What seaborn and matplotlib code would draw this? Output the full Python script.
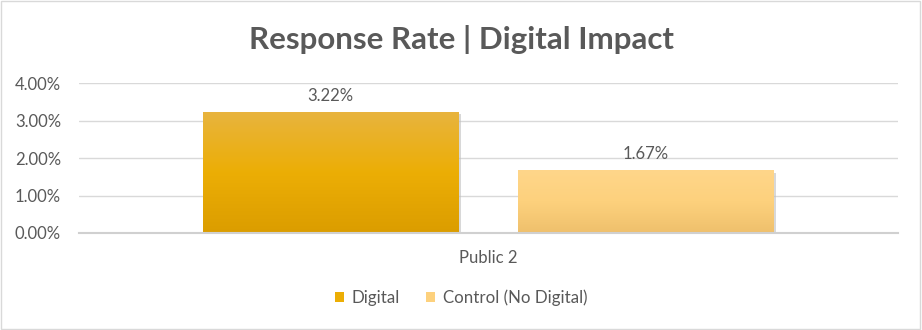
import matplotlib
matplotlib.use("Agg")
import matplotlib.pyplot as plt
import matplotlib.patheffects as pe
from matplotlib.colors import LinearSegmentedColormap
from matplotlib.patches import Rectangle
from matplotlib.ticker import PercentFormatter
import numpy as np
import pandas as pd
import seaborn as sns

# Chart data
categories = ["Public 2"]
series = ["Digital", "Control (No Digital)"]
values = [3.22, 1.67]
labels = ["3.22%", "1.67%"]
y_ticks = [0.0, 1.0, 2.0, 3.0, 4.0]

df = pd.DataFrame({
    "category": categories * len(series),
    "series": series,
    "value": values,
})

# Colour gradients (top -> bottom) per series
gradients = {
    "Digital": ["#E8B43E", "#ECAE05", "#DB9D00"],
    "Control (No Digital)": ["#FFD68A", "#FDD17D", "#EFC06C"],
}
solid = {"Digital": "#E6A800", "Control (No Digital)": "#FAD07F"}

sns.set_theme(style="white")
plt.rcParams["font.family"] = ["Lato", "DejaVu Sans"]
text_color = "#595959"

fig = plt.figure(figsize=(9.22, 3.30), dpi=100)
ax = fig.add_axes([0.0857, 0.294, 0.888, 0.454])

sns.barplot(data=df, x="category", y="value", hue="series",
            palette=solid, width=0.77, gap=0.19, ax=ax, legend=True,
            saturation=1, linewidth=0)

# Gradient fill and soft shadow on each bar
for patch, name in zip(ax.patches, series):
    x0, y0 = patch.get_x(), patch.get_y()
    w, h = patch.get_width(), patch.get_height()
    cmap = LinearSegmentedColormap.from_list(name, gradients[name][::-1])
    grad = np.linspace(0, 1, 256).reshape(-1, 1)
    im = ax.imshow(grad, cmap=cmap, aspect="auto", origin="lower",
                   extent=[x0, x0 + w, y0, y0 + h], zorder=patch.get_zorder() + 0.1)
    im.set_clip_path(patch)
    patch.set_path_effects([pe.SimplePatchShadow(offset=(1.5, -1.5), shadow_rgbFace="#BFBFBF", alpha=0.6),
                            pe.Normal()])

ax.set_xlim(-0.5, 0.5)
ax.set_ylim(0, 4.0)
ax.set_yticks(y_ticks)
ax.yaxis.set_major_formatter(PercentFormatter(decimals=2))
ax.grid(axis="y", color="#D9D9D9", linewidth=1)
ax.set_axisbelow(True)
for s in ["top", "right", "left"]:
    ax.spines[s].set_visible(False)
ax.spines["bottom"].set_color("#D0D0D0")
ax.spines["bottom"].set_linewidth(1.5)
ax.tick_params(axis="both", length=0, labelsize=12, colors=text_color)
ax.tick_params(axis="x", pad=12.5)
ax.tick_params(axis="y", pad=13)
ax.set_xlabel("")
ax.set_ylabel("")

# Value labels above bars
for patch, lab in zip(ax.patches, labels):
    ax.annotate(lab, (patch.get_x() + patch.get_width() / 2, patch.get_height()),
                xytext=(0, 6), textcoords="offset points", ha="center", va="bottom",
                fontsize=12, color=text_color)

# Legend below the plot
ax.legend_.remove()
leg_handles = [Rectangle((0, 0), 1, 1, facecolor=gradients[n][1], edgecolor="none") for n in series]
fig.legend(leg_handles, series, loc="center", bbox_to_anchor=(0.5, 0.097), ncol=2,
           frameon=False, fontsize=12.2, handlelength=0.55, handleheight=0.55,
           handletextpad=0.45, columnspacing=1.5, labelcolor=text_color)

fig.suptitle("Response Rate | Digital Impact", x=0.5, y=0.925, fontsize=22.5,
             fontweight="bold", color=text_color)

# Outer chart border
fig.patches.append(Rectangle((0.001, 0.002), 0.997, 0.995, transform=fig.transFigure,
                             fill=False, edgecolor="#D9D9D9", linewidth=1))

fig.savefig("out.png", dpi=100)
